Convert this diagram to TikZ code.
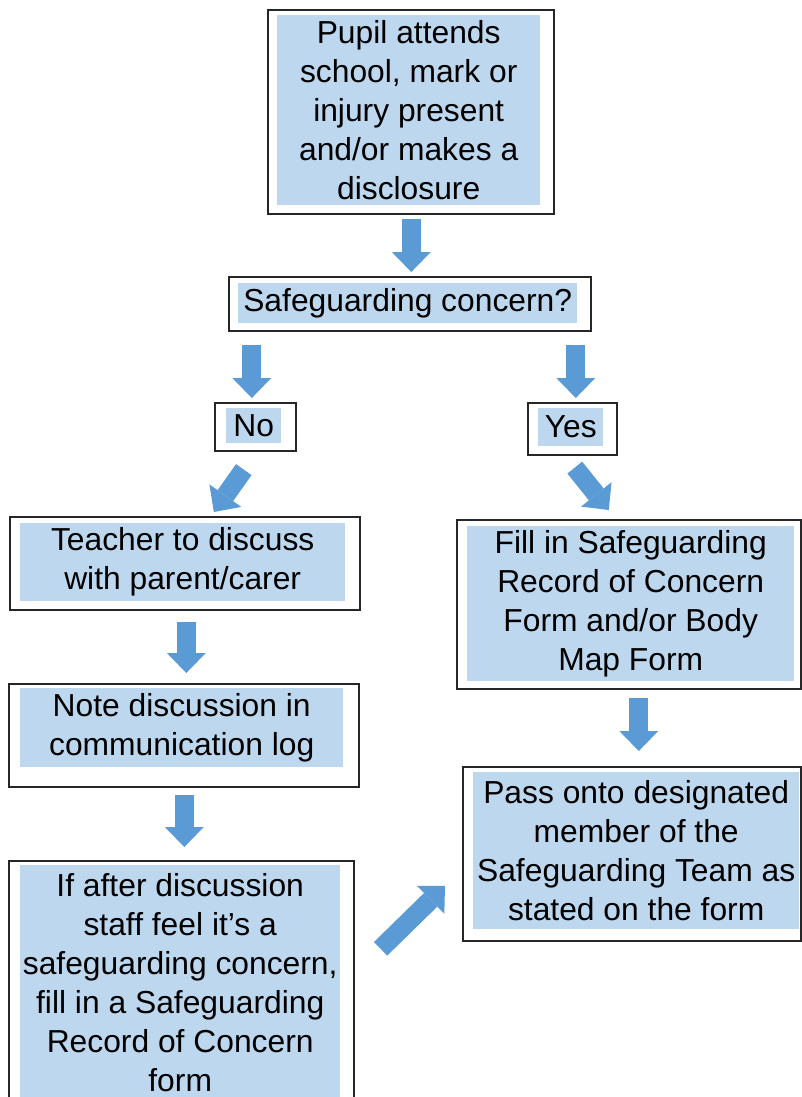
\documentclass[tikz,border=0pt]{standalone}
\usepackage{fontspec}
\setmainfont{Liberation Sans}
\usetikzlibrary{arrows.meta,positioning,calc}
\definecolor{boxblue}{HTML}{BDD7EE}
\definecolor{arrowblue}{HTML}{5B9BD5}

\begin{document}
\begin{tikzpicture}[x=1pt,y=-1pt,
  outerbox/.style={draw=black!85,line width=1.6pt,anchor=north west,inner sep=0pt},
  boxtext/.style={fill=boxblue,anchor=north west,inner sep=0pt,align=center,
    font=\fontsize{31.8}{39}\selectfont},
  blockarrow/.style={arrowblue,line width=19pt,
    -{Triangle[width=39pt,length=20pt,line width=0pt]}}]
  \path[use as bounding box,fill=white] (0,0) rectangle (801,1097);

  % top of the chart
  \node[outerbox,minimum width=286,minimum height=204] (pupil) at (267,9) {};
  \node[boxtext,minimum width=263,minimum height=190] (pupiltext) at (277,15)
    {Pupil attends\\school, mark or\\injury present\\and/or makes a\\disclosure};
  \node[outerbox,minimum width=362,minimum height=54] (concern) at (228,276) {};
  \node[boxtext,minimum width=339,minimum height=40] (concerntext) at (238,283)
    {Safeguarding concern?};

  \node[outerbox,minimum width=81,minimum height=48] (no) at (214,402) {};
  \node[boxtext,minimum width=55,minimum height=35] (notext) at (226,408) {No};
  \node[outerbox,minimum width=89,minimum height=52] (yes) at (527,402) {};
  \node[boxtext,minimum width=65,minimum height=38] (yestext) at (538,408) {Yes};

  % no branch
  \node[outerbox,minimum width=350,minimum height=93] (teacher) at (9,516) {};
  \node[boxtext,minimum width=325,minimum height=78] (teachertext) at (20,523)
    {Teacher to discuss\\with parent/carer};
  \node[outerbox,minimum width=350,minimum height=103] (note) at (8,683) {};
  \node[boxtext,minimum width=323,minimum height=79] (notetext) at (20,688)
    {Note discussion in\\communication log};
  \node[outerbox,minimum width=345,minimum height=246] (escalate) at (8,860) {};
  \node[boxtext,minimum width=320,minimum height=235] (escalatetext) at (20,865)
    {If after discussion\\staff feel it's a\\safeguarding concern,\\fill in a Safeguarding\\Record of Concern\\form};

  % yes branch
  \node[outerbox,minimum width=344,minimum height=169] (record) at (456,519) {};
  \node[boxtext,minimum width=327,minimum height=155] (recordtext) at (467,526)
    {Fill in Safeguarding\\Record of Concern\\Form and/or Body\\Map Form};
  \node[outerbox,minimum width=338,minimum height=174] (pass) at (462,766) {};
  \node[boxtext,minimum width=326,minimum height=157] (passtext) at (473,772)
    {Pass onto designated\\member of the\\Safeguarding Team as\\stated on the form};

  \draw[blockarrow] ($(pupil.south)+(0.5,4)$) -- ($(concern.north)+(1.5,-4)$);
  \draw[blockarrow] ($(concern.south -| no.north)+(-3.5,13)$) -- ($(no.north)+(-3.5,-4)$);
  \draw[blockarrow] ($(concern.south -| yes.north)+(3.5,13)$) -- ($(yes.north)+(3.5,-4)$);
  \draw[blockarrow] ($(no.south)+(-11.5,18)$) -- ($(teacher.north)+(29,-4)$);
  \draw[blockarrow] ($(yes.south)+(2.5,12)$) -- ($(record.north)+(-20,-9)$);
  \draw[blockarrow] ($(teacher.south)+(1.5,11)$) -- ($(note.north)+(2.5,-10)$);
  \draw[blockarrow] ($(note.south)+(0.5,7)$) -- ($(escalate.north)+(3,-13)$);
  \draw[blockarrow] ($(record.south)+(10,8)$) -- ($(pass.north)+(7,-15)$);
  \draw[blockarrow] ($(escalate.east)+(26,-35)$) -- ($(pass.west)+(-17,32)$);
\end{tikzpicture}
\end{document}
